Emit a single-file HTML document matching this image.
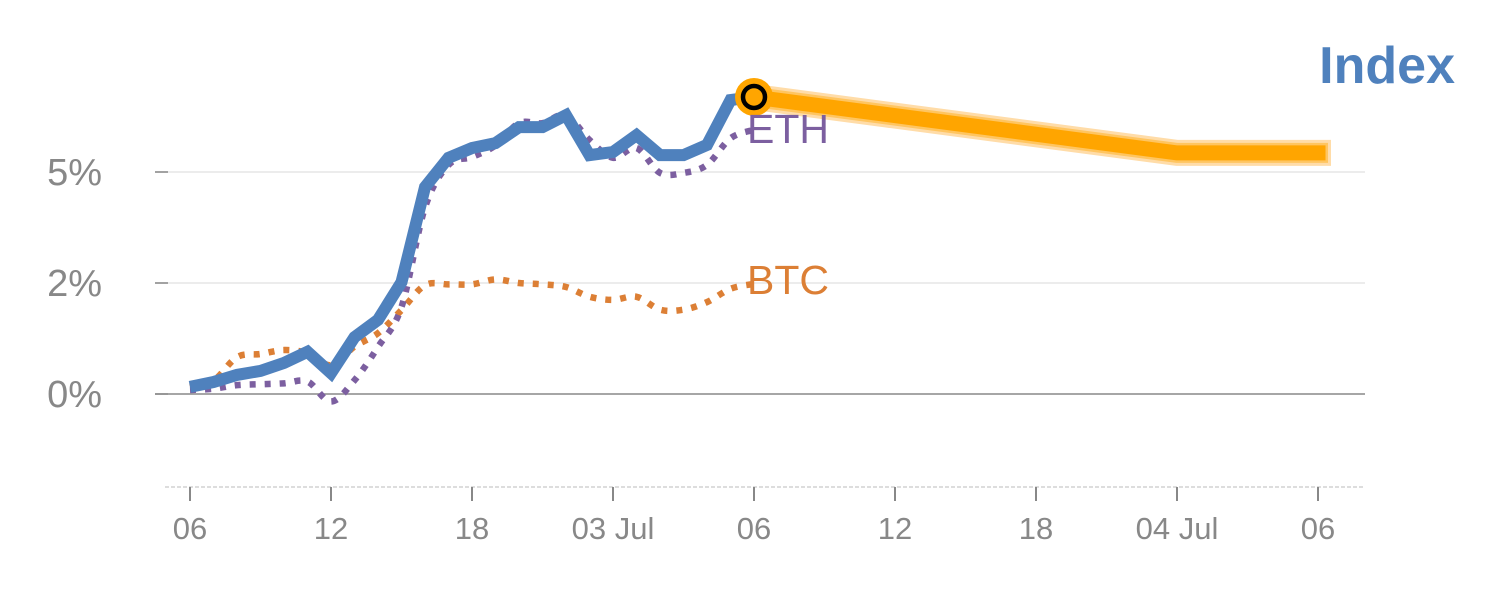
<!DOCTYPE html>
<html><head><meta charset="utf-8"><style>
html,body{margin:0;padding:0;background:#fff;}
svg{display:block;font-family:"Liberation Sans",sans-serif;}
</style></head><body>
<svg id="chart" width="1500" height="600" viewBox="0 0 1500 600" xmlns="http://www.w3.org/2000/svg"></svg>
<script>
const indexVals=[0.16,0.27,0.43,0.52,0.70,0.95,0.47,1.28,1.67,2.52,4.66,5.32,5.54,5.65,6.01,6.01,6.28,5.38,5.45,5.83,5.38,5.38,5.61,6.62,6.69];
const ethVals=[0.09,0.12,0.2,0.22,0.24,0.28,-0.17,0.31,1.06,1.96,4.2,5.16,5.34,5.6,6.1,6.1,6.28,5.72,5.32,5.54,4.98,4.98,5.16,5.76,5.95];
const btcVals=[0.16,0.3,0.83,0.9,0.99,0.92,0.65,1.07,1.37,1.89,2.45,2.47,2.47,2.58,2.5,2.47,2.41,2.19,2.12,2.19,1.9,1.9,2.07,2.37,2.48];
const forecastDays=[24,42,48];
const forecastVals=[6.69,5.43,5.43];
const xTickDays=[0,6,12,18,24,30,36,42,48];
const xTickLabels=["06","12","18","03 Jul","06","12","18","04 Jul","06"];
const yTickVals=[0,2.5,5];
const yTickLabels=["0%","2%","5%"];

const NS="http://www.w3.org/2000/svg";
const svg=document.getElementById('chart');
const x=d=>190+d*23.5;
const y=v=>394-v*44.4;
function el(tag,attrs,parent){const e=document.createElementNS(NS,tag);for(const k in attrs)e.setAttribute(k,attrs[k]);(parent||svg).appendChild(e);return e;}
function smooth(pts){let d=`M${pts[0][0]},${pts[0][1]}`;for(let i=0;i<pts.length-1;i++){const p0=pts[i-1]||pts[i],p1=pts[i],p2=pts[i+1],p3=pts[i+2]||p2;const c1=[p1[0]+(p2[0]-p0[0])/6,p1[1]+(p2[1]-p0[1])/6],c2=[p2[0]-(p3[0]-p1[0])/6,p2[1]-(p3[1]-p1[1])/6];d+=` C${c1[0]},${c1[1]} ${c2[0]},${c2[1]} ${p2[0]},${p2[1]}`;}return d;}

yTickVals.forEach((v,i)=>{
  if(v!==0){const g=el('line',{x1:155,x2:1365,y1:y(v),y2:y(v),stroke:'#e6e6e6','stroke-width':1.5});
  
  }
  const t=el('line',{x1:155,x2:168,y1:y(v),y2:y(v),stroke:'#888','stroke-width':1.5});
  
  
  const l=el('text',{x:102,y:y(v)+13,'text-anchor':'end','font-size':38,fill:'#888'});
  l.textContent=yTickLabels[i];
  
  
});
const zl=el('line',{x1:155,x2:1365,y1:y(0),y2:y(0),stroke:'#888','stroke-width':1.5});


const xa=el('line',{x1:165,x2:1365,y1:487,y2:487,stroke:'#ddd','stroke-width':2,'stroke-dasharray':'4 2'});


xTickDays.forEach((d,i)=>{
  const t=el('line',{x1:x(d),x2:x(d),y1:487,y2:501,stroke:'#888','stroke-width':2});
  
  
  const l=el('text',{x:x(d),y:539,'text-anchor':'middle','font-size':31,fill:'#888'});
  l.textContent=xTickLabels[i];
  
  
});

const btc=el('path',{d:smooth(btcVals.map((v,i)=>[x(i),y(v)])),fill:'none',stroke:'#dc7f35','stroke-width':6.5,'stroke-dasharray':'6 9'});


const eth=el('path',{d:smooth(ethVals.map((v,i)=>[x(i),y(v)])),fill:'none',stroke:'#7c5fa0','stroke-width':6.5,'stroke-dasharray':'6 9'});


const idx=el('polyline',{points:indexVals.map((v,i)=>x(i)+','+y(v)).join(' '),fill:'none',stroke:'#4f81bd','stroke-width':12,'stroke-linejoin':'miter'});


const fpts=forecastDays.map((d,i)=>x(d)+','+y(forecastVals[i])).join(' ');
const fh=el('polyline',{points:fpts,fill:'none',stroke:'#ffdca8','stroke-width':26,'stroke-linejoin':'round','stroke-linecap':'square'});


const fm=el('polyline',{points:fpts,fill:'none',stroke:'#ffc560','stroke-width':20,'stroke-linecap':'square'});


const fl=el('polyline',{points:fpts,fill:'none',stroke:'#ffa500','stroke-width':15,'stroke-linecap':'square'});


const ec=el('circle',{cx:x(24),cy:y(indexVals[24]),r:19,fill:'#ffa500'});


const er=el('circle',{cx:x(24),cy:y(indexVals[24]),r:11,fill:'#ffa500',stroke:'#000','stroke-width':4.5});



const le=el('text',{x:747,y:143,'font-size':41,fill:'#7c5fa0'});le.textContent='ETH';


const lb=el('text',{x:747,y:294,'font-size':41,fill:'#dc7f35'});lb.textContent='BTC';


const ti=el('text',{x:1455,y:83,'text-anchor':'end','font-size':52,'font-weight':'bold',fill:'#4f81bd'});ti.textContent='Index';


</script>
</body></html>
